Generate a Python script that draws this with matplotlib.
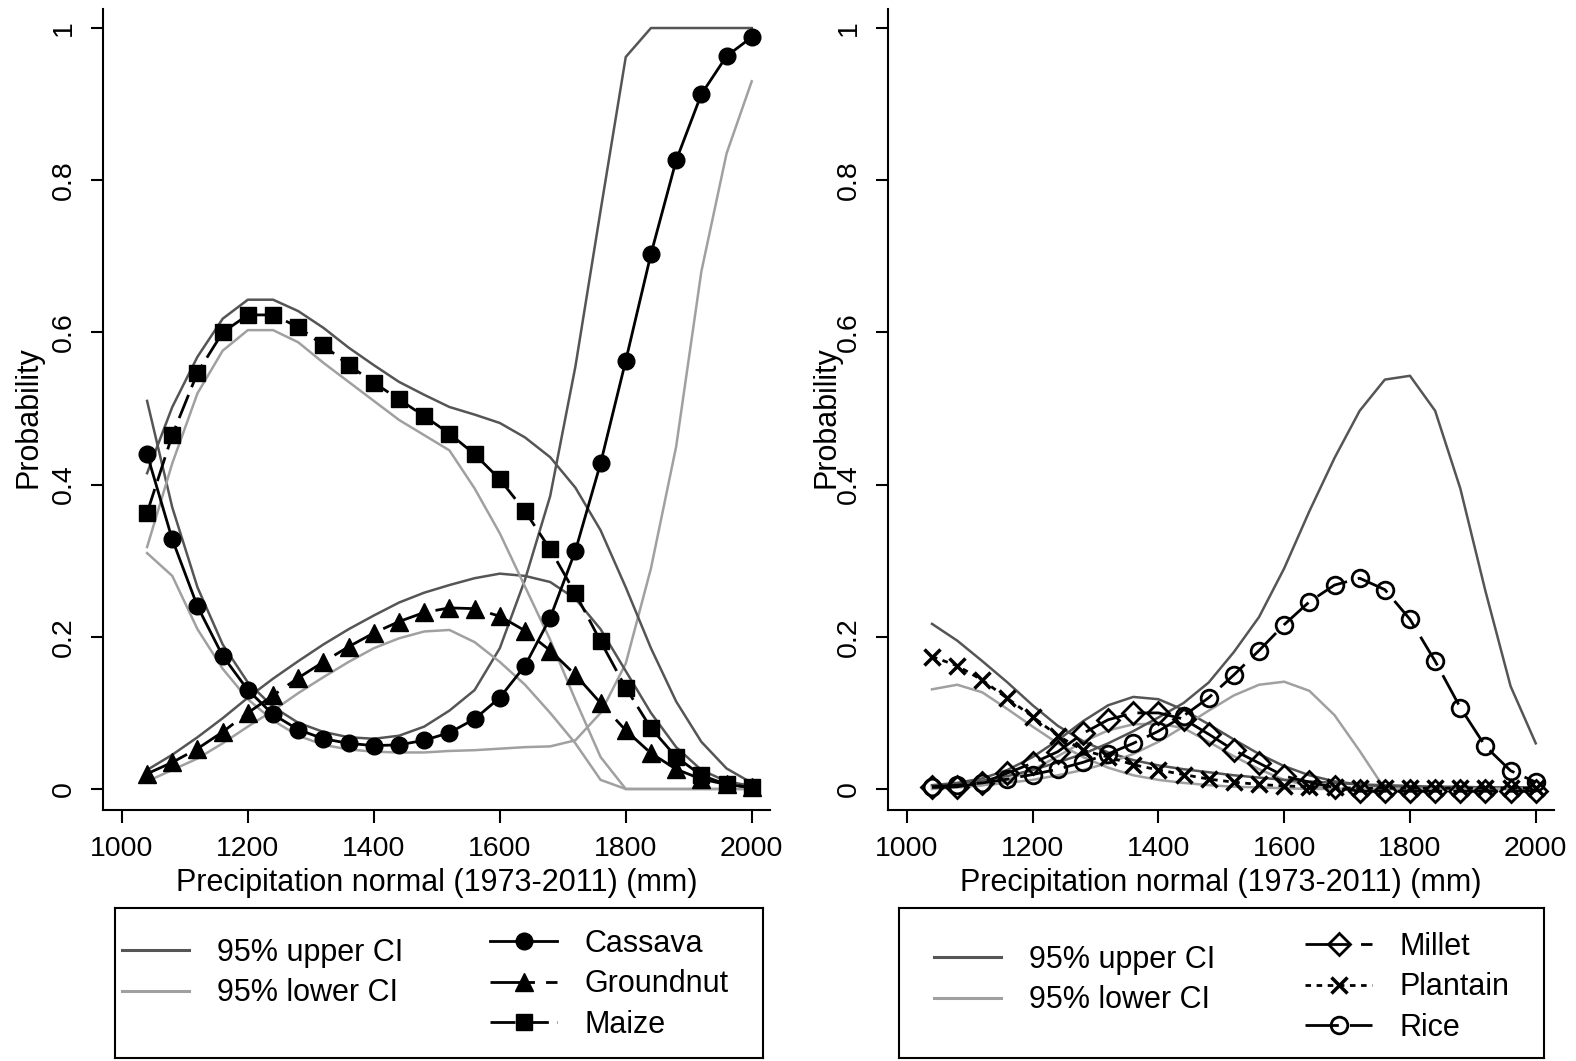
import numpy as np
import matplotlib
matplotlib.use('Agg')
import matplotlib.pyplot as plt
from matplotlib.lines import Line2D

plt.rcParams['font.family'] = ['Liberation Sans', 'DejaVu Sans']

# Precipitation normal (mm) at which predictions were evaluated
precip = [1040, 1080, 1120, 1160, 1200, 1240, 1280, 1320, 1360, 1400, 1440, 1480, 1520,
          1560, 1600, 1640, 1680, 1720, 1760, 1800, 1840, 1880, 1920, 1960, 2000]

# Left panel: Cassava, Groundnut, Maize
cassava = [0.440, 0.328, 0.240, 0.175, 0.130, 0.098, 0.078, 0.066, 0.060, 0.057, 0.058, 0.064, 0.074,
           0.092, 0.120, 0.162, 0.225, 0.313, 0.428, 0.563, 0.703, 0.826, 0.913, 0.963, 0.988]
cassava_hi = [0.510, 0.370, 0.265, 0.190, 0.140, 0.108, 0.087, 0.075, 0.068, 0.066, 0.070, 0.082, 0.103,
              0.130, 0.185, 0.275, 0.385, 0.555, 0.760, 0.962, 1.0, 1.0, 1.0, 1.0, 1.0]
cassava_lo = [0.310, 0.280, 0.210, 0.158, 0.118, 0.090, 0.070, 0.058, 0.052, 0.049, 0.048, 0.048, 0.050,
              0.051, 0.053, 0.055, 0.056, 0.064, 0.100, 0.165, 0.290, 0.450, 0.680, 0.835, 0.930]

groundnut = [0.020, 0.035, 0.053, 0.075, 0.100, 0.123, 0.146, 0.167, 0.187, 0.205, 0.220, 0.232, 0.238,
             0.237, 0.227, 0.208, 0.182, 0.150, 0.113, 0.077, 0.047, 0.026, 0.013, 0.006, 0.002]
groundnut_hi = [0.025, 0.045, 0.068, 0.093, 0.120, 0.145, 0.168, 0.190, 0.210, 0.228, 0.245, 0.258, 0.268,
                0.277, 0.283, 0.280, 0.272, 0.250, 0.210, 0.155, 0.100, 0.055, 0.025, 0.010, 0.004]
groundnut_lo = [0.010, 0.025, 0.040, 0.060, 0.082, 0.103, 0.126, 0.147, 0.167, 0.185, 0.198, 0.207, 0.209,
                0.193, 0.167, 0.137, 0.100, 0.060, 0.012, 0.0, 0.0, 0.0, 0.0, 0.0, 0.0]

maize = [0.363, 0.465, 0.547, 0.600, 0.623, 0.623, 0.607, 0.583, 0.557, 0.534, 0.512, 0.490, 0.467,
         0.440, 0.407, 0.365, 0.315, 0.257, 0.194, 0.133, 0.080, 0.042, 0.018, 0.006, 0.002]
maize_hi = [0.415, 0.502, 0.568, 0.618, 0.643, 0.643, 0.628, 0.606, 0.580, 0.557, 0.535, 0.518, 0.502,
            0.492, 0.481, 0.462, 0.436, 0.396, 0.340, 0.265, 0.185, 0.115, 0.062, 0.027, 0.008]
maize_lo = [0.318, 0.428, 0.520, 0.576, 0.603, 0.603, 0.587, 0.560, 0.535, 0.510, 0.485, 0.465, 0.445,
            0.395, 0.336, 0.266, 0.196, 0.117, 0.042, 0.0, 0.0, 0.0, 0.0, 0.0, 0.0]

# Right panel: Millet, Plantain, Rice
millet = [0.002, 0.003, 0.008, 0.021, 0.034, 0.049, 0.073, 0.091, 0.100, 0.100, 0.092, 0.072, 0.051,
          0.034, 0.017, 0.009, 0.002, -0.003, -0.003, -0.003, -0.003, -0.003, -0.003, -0.003, -0.003]
millet_hi = [0.005, 0.008, 0.014, 0.025, 0.042, 0.064, 0.089, 0.110, 0.121, 0.118, 0.104, 0.085, 0.065,
             0.046, 0.030, 0.018, 0.010, 0.006, 0.003, 0.002, 0.002, 0.002, 0.002, 0.002, 0.002]
millet_lo = [0.0, 0.002, 0.005, 0.012, 0.025, 0.043, 0.062, 0.077, 0.085, 0.086, 0.080, 0.062, 0.043,
             0.026, 0.012, 0.004, 0.0, 0.0, 0.0, 0.0, 0.0, 0.0, 0.0, 0.0, 0.0]

plantain = [0.174, 0.162, 0.143, 0.119, 0.095, 0.070, 0.051, 0.042, 0.032, 0.025, 0.019, 0.013, 0.009,
            0.006, 0.004, 0.003, 0.002, 0.001, 0.001, 0.001, 0.001, 0.001, 0.001, 0.001, 0.001]
plantain_hi = [0.217, 0.195, 0.168, 0.140, 0.110, 0.083, 0.063, 0.048, 0.038, 0.031, 0.026, 0.022, 0.018,
               0.015, 0.012, 0.010, 0.008, 0.006, 0.005, 0.004, 0.003, 0.003, 0.002, 0.002, 0.002]
plantain_lo = [0.131, 0.137, 0.127, 0.105, 0.082, 0.060, 0.042, 0.028, 0.018, 0.012, 0.008, 0.005, 0.003,
               0.002, 0.001, 0.0, 0.0, 0.0, 0.0, 0.0, 0.0, 0.0, 0.0, 0.0, 0.0]

rice = [0.003, 0.005, 0.008, 0.013, 0.019, 0.026, 0.035, 0.046, 0.060, 0.076, 0.096, 0.120, 0.150,
        0.182, 0.216, 0.246, 0.268, 0.277, 0.262, 0.223, 0.168, 0.107, 0.056, 0.024, 0.009]
rice_hi = [0.004, 0.007, 0.011, 0.017, 0.025, 0.035, 0.046, 0.060, 0.076, 0.094, 0.113, 0.140, 0.180,
           0.226, 0.290, 0.365, 0.435, 0.497, 0.538, 0.543, 0.497, 0.395, 0.260, 0.135, 0.060]
rice_lo = [0.002, 0.003, 0.005, 0.008, 0.012, 0.018, 0.025, 0.034, 0.046, 0.062, 0.082, 0.103, 0.123,
           0.137, 0.141, 0.129, 0.097, 0.050, 0.0, 0.0, 0.0, 0.0, 0.0, 0.0, 0.0]

DARK = '#555555'
LIGHT = '#a0a0a0'
W, H = 1576, 1061


def px_rect(x0, y0, x1, y1):
    # pixel box (top-left origin) -> figure fraction rect
    return [x0 / W, 1 - y1 / H, (x1 - x0) / W, (y1 - y0) / H]


def style_axes(ax, label_x):
    ax.set_xlim(970, 2029)
    ax.set_ylim(-0.0276, 1.025)
    for s in ['top', 'right']:
        ax.spines[s].set_visible(False)
    for s in ['left', 'bottom']:
        ax.spines[s].set_linewidth(1.5)
    ax.set_xticks([1000, 1200, 1400, 1600, 1800, 2000])
    ax.set_yticks([0, 0.2, 0.4, 0.6, 0.8, 1])
    ax.set_yticklabels(['0', '0.2', '0.4', '0.6', '0.8', '1'])
    ax.tick_params(length=9, width=1.5, pad=10, labelsize=20.5, direction='out')
    plt.setp(ax.get_yticklabels(), rotation=90, va='center')
    ax.set_xlabel('Precipitation normal (1973-2011) (mm)', fontsize=22, labelpad=4)
    ax.set_ylabel('Probability', fontsize=22, va='center')
    ax.yaxis.set_label_coords(label_x, 0.49)


fig = plt.figure(figsize=(W / 100, H / 100), dpi=100)
axL = fig.add_axes(px_rect(103, 9, 770, 810))
axR = fig.add_axes(px_rect(888, 9, 1554, 810))

CI_LW = 1.8

# Left panel
for lo, hi in [(cassava_lo, cassava_hi), (groundnut_lo, groundnut_hi), (maize_lo, maize_hi)]:
    axL.plot(precip, hi, color=DARK, lw=CI_LW)
    axL.plot(precip, lo, color=LIGHT, lw=CI_LW)
axL.plot(precip, cassava, color='black', lw=2, marker='o', ms=12)
axL.plot(precip, groundnut, color='black', lw=2, ls=(0, (16, 4)), marker='^', ms=13)
axL.plot(precip, maize, color='black', lw=2, ls=(0, (9, 3)), marker='s', ms=12)
style_axes(axL, -0.1124)

# Right panel
for lo, hi in [(millet_lo, millet_hi), (plantain_lo, plantain_hi), (rice_lo, rice_hi)]:
    axR.plot(precip, hi, color=DARK, lw=CI_LW)
    axR.plot(precip, lo, color=LIGHT, lw=CI_LW)
axR.plot(precip, millet, color='black', lw=2, ls=(0, (16, 4)), marker='D', ms=11,
         mfc='none', mew=2)
axR.plot(precip, plantain, color='black', lw=2, ls=(0, (2, 2)), marker='x', ms=12, mew=2.5)
axR.plot(precip, rice, color='black', lw=2, ls=(0, (12, 4)), marker='o', ms=12,
         mfc='none', mew=2)
style_axes(axR, -0.093)


def legend_box(rect, ci_anchor, crop_anchor, crop_handles):
    lax = fig.add_axes(rect)
    lax.set_xticks([])
    lax.set_yticks([])
    for s in lax.spines.values():
        s.set_linewidth(1.5)
    ci_handles = [Line2D([], [], color=DARK, lw=2.2, label='95% upper CI'),
                  Line2D([], [], color=LIGHT, lw=2.2, label='95% lower CI')]
    common = dict(frameon=False, fontsize=22, handlelength=2.2, handletextpad=0.9,
                  labelspacing=0.34, borderpad=0, borderaxespad=0, numpoints=1,
                  loc='upper left', bbox_transform=fig.transFigure)
    leg1 = lax.legend(handles=ci_handles, bbox_to_anchor=ci_anchor, **common)
    lax.add_artist(leg1)
    lax.legend(handles=crop_handles, bbox_to_anchor=crop_anchor, **common)


crops_left = [Line2D([], [], color='black', lw=2, marker='o', ms=12, label='Cassava'),
              Line2D([], [], color='black', lw=2, ls=(0, (16, 4)), marker='^', ms=13, label='Groundnut'),
              Line2D([], [], color='black', lw=2, ls=(0, (9, 3)), marker='s', ms=12, label='Maize')]
crops_right = [Line2D([], [], color='black', lw=2, ls=(0, (16, 4)), marker='D', ms=11,
                      mfc='none', mew=2, label='Millet'),
               Line2D([], [], color='black', lw=2, ls=(0, (2, 2)), marker='x', ms=12, mew=2.5,
                      label='Plantain'),
               Line2D([], [], color='black', lw=2, ls=(0, (12, 4)), marker='o', ms=12,
                      mfc='none', mew=2, label='Rice')]

legend_box(px_rect(115, 908, 763, 1058), (122 / W, 1 - 938 / H), (490 / W, 1 - 929 / H), crops_left)
legend_box(px_rect(899, 908, 1544, 1058), (934 / W, 1 - 945 / H), (1305 / W, 1 - 932 / H), crops_right)

fig.savefig('out.png', dpi=100)
